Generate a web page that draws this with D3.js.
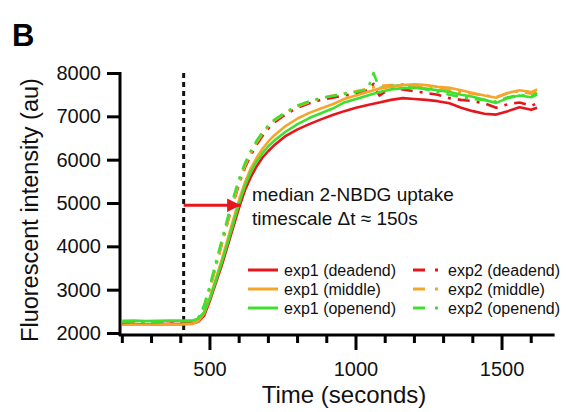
<!DOCTYPE html>
<html>
<head>
<meta charset="utf-8">
<script src="https://cdn.jsdelivr.net/npm/d3@7"></script>
<style>
    body { margin: 0; background: #fff; }
    svg { font-family: "Liberation Sans", Arial, sans-serif; }
</style>
</head>
<body>
<div id="container"></div>
<script>
// sample times (s)
const times = [200, 240, 280, 320, 360, 400, 440, 460, 480, 500, 520, 540, 560, 580, 600, 620, 640, 660, 680, 700, 720,
    760, 800, 840, 880, 920, 960, 1000, 1040, 1060, 1080, 1120, 1160, 1200, 1240, 1280, 1320, 1360, 1400, 1440,
    1480, 1520, 1560, 1600, 1620];

const exp1Deadend = [2200, 2205, 2195, 2200, 2210, 2205, 2220, 2260, 2400, 2750, 3150, 3550, 4000, 4450, 4900, 5300,
    5600, 5850, 6050, 6200, 6330, 6550, 6700, 6820, 6930, 7030, 7120, 7200, 7260, 7290, 7320, 7380, 7420, 7400,
    7380, 7350, 7300, 7200, 7120, 7060, 7040, 7120, 7210, 7150, 7200];
const exp1Middle = [2190, 2195, 2190, 2195, 2200, 2195, 2210, 2270, 2450, 2820, 3250, 3680, 4150, 4620, 5080, 5480,
    5800, 6050, 6250, 6420, 6560, 6780, 6950, 7080, 7180, 7280, 7400, 7480, 7560, 7600, 7640, 7680, 7720, 7740,
    7720, 7680, 7660, 7600, 7540, 7480, 7430, 7540, 7600, 7560, 7620];
const exp1Openend = [2280, 2285, 2275, 2280, 2290, 2285, 2290, 2330, 2480, 2800, 3200, 3620, 4070, 4530, 4990, 5400,
    5720, 5960, 6150, 6310, 6440, 6650, 6820, 6960, 7070, 7180, 7320, 7400, 7480, 7520, 7560, 7620, 7650, 7660,
    7640, 7600, 7560, 7500, 7450, 7380, 7310, 7420, 7480, 7440, 7500];
const exp2Deadend = [2230, 2235, 2225, 2230, 2240, 2235, 2250, 2330, 2600, 3050, 3550, 4050, 4550, 5000, 5450, 5820,
    6100, 6350, 6550, 6720, 6860, 7050, 7200, 7300, 7380, 7430, 7480, 7520, 7600, 7750, 7480, 7650, 7620, 7580,
    7540, 7500, 7420, 7380, 7350, 7300, 7200, 7280, 7320, 7240, 7300];
const exp2Middle = [2220, 2225, 2215, 2220, 2230, 2225, 2240, 2320, 2580, 3020, 3520, 4030, 4540, 5020, 5480, 5860,
    6150, 6400, 6600, 6770, 6900, 7080, 7230, 7330, 7420, 7480, 7530, 7580, 7640, 7670, 7700, 7720, 7740, 7700,
    7680, 7650, 7600, 7560, 7520, 7480, 7450, 7540, 7580, 7520, 7600];
const exp2Openend = [2260, 2265, 2255, 2260, 2270, 2265, 2260, 2350, 2640, 3100, 3620, 4130, 4640, 5120, 5560, 5920,
    6200, 6440, 6630, 6790, 6920, 7100, 7250, 7350, 7420, 7470, 7520, 7560, 7620, 8000, 7650, 7700, 7720, 7680,
    7620, 7560, 7500, 7440, 7400, 7380, 7340, 7440, 7500, 7460, 7540];

const seriesNames = ['exp1 (deadend)', 'exp1 (middle)', 'exp1 (openend)', 'exp2 (deadend)', 'exp2 (middle)', 'exp2 (openend)'];
const seriesValues = [exp1Deadend, exp1Middle, exp1Openend, exp2Deadend, exp2Middle, exp2Openend];

const yTicks = [2000, 3000, 4000, 5000, 6000, 7000, 8000];
const xMajorTicks = [500, 1000, 1500];
const xMinorTicks = [200, 300, 400, 600, 700, 800, 900, 1100, 1200, 1300, 1400, 1600];

const injectionTime = 410;
const arrowEnd = 605;
const arrowLevel = 4950;

const width = 566;
const height = 412;

const RED = '#e5161c';
const ORANGE = '#f6a52a';
const GREEN = '#3fdf30';
const colors = [RED, ORANGE, GREEN, RED, ORANGE, GREEN];

const x = d3.scaleLinear().domain([192, 1680]).range([120, 554.6]);
const y = d3.scaleLinear().domain([2000, 8000]).range([333, 73]);
const axisY = 335;

const svg = d3.select('#container')
    .append('svg')
    .attr('width', width)
    .attr('height', height);

// panel letter
svg.append('text')
    .attr('x', 12).attr('y', 46)
    .attr('font-size', 31).attr('font-weight', 'bold')
    .text('B');

// y axis
const yAxis = d3.axisLeft(y).tickValues(yTicks).tickSize(13).tickPadding(6).tickFormat(d3.format('d'));
const gy = svg.append('g').attr('transform', 'translate(120,0)').call(yAxis);
gy.select('.domain').remove();
gy.append('line').attr('x1', 0).attr('x2', 0).attr('y1', y(8000) - 1).attr('y2', axisY + 1)
    .attr('stroke', '#000').attr('stroke-width', 3);
gy.selectAll('.tick line').attr('stroke-width', 3);
gy.selectAll('.tick text').attr('font-size', 20).attr('fill', '#111').attr('font-family', 'Liberation Sans, Arial, sans-serif');

// x axis
const gx = svg.append('g').attr('transform', `translate(0,${axisY})`);
gx.append('line').attr('x1', 119).attr('x2', x(1680)).attr('stroke', '#000').attr('stroke-width', 3);
gx.selectAll('.minor').data(xMinorTicks).join('line')
    .attr('x1', d => x(d)).attr('x2', d => x(d)).attr('y1', 0).attr('y2', 8)
    .attr('stroke', '#000').attr('stroke-width', 3);
gx.selectAll('.major').data(xMajorTicks).join('line')
    .attr('x1', d => x(d)).attr('x2', d => x(d)).attr('y1', 0).attr('y2', 15)
    .attr('stroke', '#000').attr('stroke-width', 3);
gx.selectAll('.lbl').data(xMajorTicks).join('text')
    .attr('x', d => x(d)).attr('y', 41)
    .attr('text-anchor', 'middle').attr('font-size', 20).attr('fill', '#111')
    .text(d => d);

// axis titles
svg.append('text')
    .attr('x', 344).attr('y', 403)
    .attr('text-anchor', 'middle').attr('font-size', 24).attr('fill', '#111')
    .text('Time (seconds)');
svg.append('text')
    .attr('transform', 'translate(38,210) rotate(-90)')
    .attr('text-anchor', 'middle').attr('font-size', 23.5).attr('fill', '#111')
    .text('Fluorescent intensity (au)');

// injection line
svg.append('line')
    .attr('x1', x(injectionTime)).attr('x2', x(injectionTime))
    .attr('y1', y(8000)).attr('y2', axisY)
    .attr('stroke', '#111').attr('stroke-width', 3).attr('stroke-dasharray', '5,4');

// curves
const line = d3.line()
    .x((d, i) => x(times[i]))
    .y(d => y(d));

// dashed exp2 drawn first, solid exp1 on top
[3, 4, 5, 0, 1, 2].forEach(k => {
    svg.append('path')
        .datum(seriesValues[k])
        .attr('d', line)
        .attr('fill', 'none')
        .attr('stroke', colors[k])
        .attr('stroke-width', 2.6)
        .attr('stroke-linejoin', 'round')
        .attr('stroke-dasharray', k >= 3 ? '12,7,3,7' : null);
});

// arrow
svg.append('defs').append('marker')
    .attr('id', 'head')
    .attr('viewBox', '0 0 10 10')
    .attr('refX', 10).attr('refY', 5)
    .attr('markerWidth', 7).attr('markerHeight', 4.5)
    .attr('markerUnits', 'strokeWidth')
    .attr('orient', 'auto')
    .append('path').attr('d', 'M0,0L10,5L0,10Z').attr('fill', RED);
svg.append('line')
    .attr('x1', x(injectionTime)).attr('x2', x(arrowEnd))
    .attr('y1', y(arrowLevel)).attr('y2', y(arrowLevel))
    .attr('stroke', RED).attr('stroke-width', 3)
    .attr('marker-end', 'url(#head)');

// annotation
const note = svg.append('text').attr('font-size', 19).attr('fill', '#111');
note.append('tspan').attr('x', 252).attr('y', 201).text('median 2-NBDG uptake');
note.append('tspan').attr('x', 252).attr('y', 225).text('timescale \u0394t \u2248 150s');

// legend
const legend = svg.append('g').attr('font-size', 16).attr('fill', '#111');
const rowY = [270, 289, 308];
seriesNames.forEach((name, k) => {
    const row = rowY[k % 3];
    const col = k < 3 ? 0 : 1;
    if (col === 0) {
        legend.append('line')
            .attr('x1', 248).attr('x2', 278).attr('y1', row).attr('y2', row)
            .attr('stroke', colors[k]).attr('stroke-width', 3);
        legend.append('text').attr('x', 284).attr('y', row + 6).text(name);
    } else {
        legend.append('line')
            .attr('x1', 413).attr('x2', 440).attr('y1', row).attr('y2', row)
            .attr('stroke', colors[k]).attr('stroke-width', 3)
            .attr('stroke-dasharray', '12,10,3,10');
        legend.append('text').attr('x', 448).attr('y', row + 6).text(name);
    }
});
</script>
</body>
</html>
